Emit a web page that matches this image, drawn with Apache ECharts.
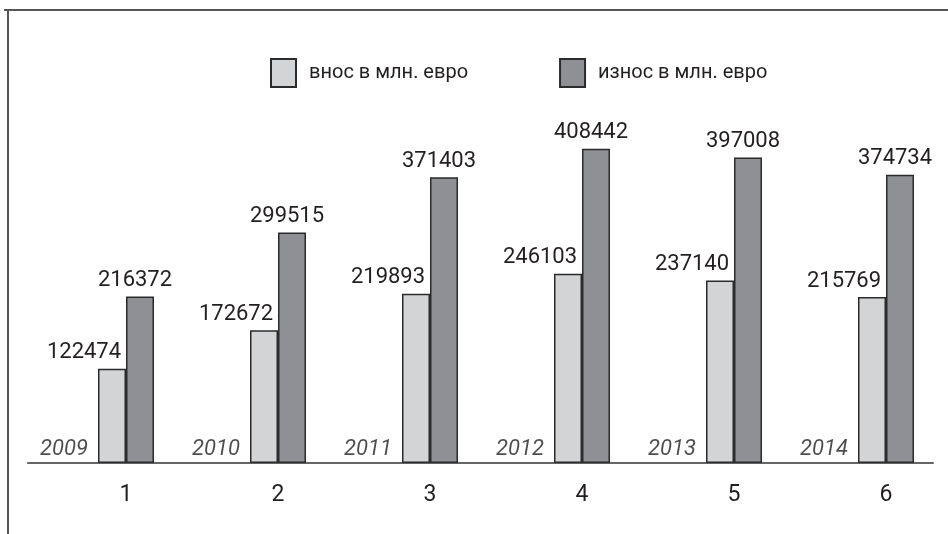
<!DOCTYPE html>
<html>
<head>
<meta charset="utf-8">
<style>
  html, body { margin: 0; padding: 0; background: #fff; overflow: hidden; }
  #chart { width: 980px; height: 534px; }
</style>
<script src="https://cdn.jsdelivr.net/npm/echarts@6/dist/echarts.min.js"></script>
</head>
<body>
<div id="chart"></div>
<script>
const categories = ["1", "2", "3", "4", "5", "6"];
const years = ["2009", "2010", "2011", "2012", "2013", "2014"];
const importValues = [122474, 172672, 219893, 246103, 237140, 215769]; // внос
const exportValues = [216372, 299515, 371403, 408442, 397008, 374734]; // износ
const yearBase = [0, 0, 0, 0, 0, 0];

const font = "Roboto, 'Liberation Sans', sans-serif";
const textColor = "#231f20";

const chart = echarts.init(document.getElementById("chart"));
chart.setOption({
  animation: false,
  backgroundColor: "#fff",
  // frame around the picture (top and left edges)
  graphic: [
    { type: "line", shape: { x1: 4, y1: 10, x2: 980, y2: 10 }, style: { stroke: "#555", lineWidth: 2 } },
    { type: "line", shape: { x1: 8, y1: 10, x2: 8, y2: 534 }, style: { stroke: "#555", lineWidth: 2 } }
  ],
  legend: {
    data: ["внос в млн. евро", "износ в млн. евро"],
    left: 265,
    top: 53,
    itemWidth: 25,
    itemHeight: 28,
    itemGap: 91,
    icon: "rect",
    textStyle: { fontFamily: font, fontSize: 20, color: textColor, padding: [0, 0, 0, 8] }
  },
  grid: [
    { left: 50, width: 912, top: 13, bottom: 71 },
    // only for the base line
    { left: 28, right: 47, top: 13, bottom: 71 }
  ],
  xAxis: [
    {
      type: "category",
      gridIndex: 0,
      data: categories,
      axisLine: { show: false },
      axisTick: { show: false },
      axisLabel: { fontFamily: font, fontSize: 23, color: textColor, margin: 21 }
    },
    {
      type: "value",
      gridIndex: 1,
      min: 0,
      max: 1,
      axisLine: { show: true, onZero: false, lineStyle: { color: "#666", width: 2 } },
      axisTick: { show: false },
      axisLabel: { show: false },
      splitLine: { show: false }
    }
  ],
  yAxis: [
    { type: "value", gridIndex: 0, min: 0, max: 585000, show: false, splitLine: { show: false } },
    { type: "value", gridIndex: 1, show: false, splitLine: { show: false } }
  ],
  series: [
    {
      name: "внос в млн. евро",
      type: "bar",
      data: importValues,
      barWidth: 28,
      barGap: "0%",
      itemStyle: { color: "#d3d4d6", borderColor: "#2b2b2b", borderWidth: 1.5 },
      label: {
        show: true,
        position: "top",
        distance: 5,
        offset: [-28, 0],
        fontFamily: font,
        fontSize: 22,
        color: textColor
      }
    },
    {
      name: "износ в млн. евро",
      type: "bar",
      data: exportValues,
      barWidth: 28,
      barGap: "0%",
      itemStyle: { color: "#8f9094", borderColor: "#2b2b2b", borderWidth: 1.5 },
      label: {
        show: true,
        position: "top",
        distance: 5,
        offset: [-5, 0],
        fontFamily: font,
        fontSize: 22,
        color: textColor
      }
    },
    {
      name: "years",
      type: "scatter",
      data: yearBase,
      symbolSize: 0,
      silent: true,
      z: 5,
      label: {
        show: true,
        position: "top",
        distance: 3,
        offset: [-62, 0],
        formatter: p => years[p.dataIndex],
        fontFamily: font,
        fontSize: 22,
        fontStyle: "italic",
        color: textColor
      }
    }
  ]
});
</script>
</body>
</html>
